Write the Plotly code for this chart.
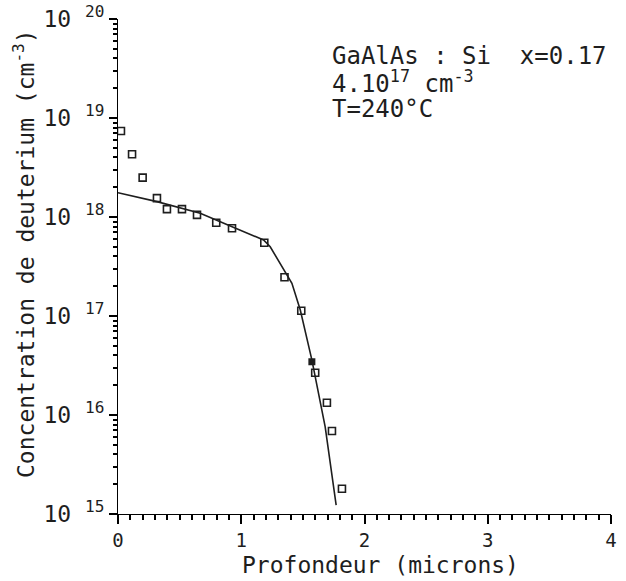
import plotly.graph_objects as go

# Measured deuterium profile (depth in microns, concentration in cm^-3)
depth_pts = [0.024, 0.114, 0.200, 0.316, 0.397, 0.519, 0.641, 0.797, 0.925,
             1.187, 1.351, 1.487, 1.600, 1.695, 1.736, 1.817]
conc_pts = [7.4e18, 4.3e18, 2.5e18, 1.55e18, 1.2e18, 1.2e18, 1.05e18, 8.75e17,
            7.7e17, 5.5e17, 2.46e17, 1.13e17, 2.67e16, 1.33e16, 6.9e15, 1.8e15]

# Point drawn as a solid square
solid_depth = [1.573]
solid_conc = [3.45e16]

# Fitted diffusion curve
fit_depth = [0.0, 0.316, 0.667, 1.181, 1.235, 1.343, 1.411, 1.479, 1.573, 1.681, 1.770]
fit_conc = [1.76e18, 1.43e18, 1.09e18, 5.86e17, 5.0e17, 3.03e17, 2.14e17,
            1.15e17, 3.6e16, 7.6e15, 1.23e15]

x_tickvals = [0, 1, 2, 3, 4]
x_ticktext = ["0", "1", "2", "3", "4"]
y_exponents = [15, 16, 17, 18, 19, 20]

FONT = "DejaVu Sans Mono"
INK = "#1e1e1e"

y_tickvals = [10.0 ** e for e in y_exponents]
y_ticktext = [f"10 <sup>{e}</sup>" for e in y_exponents]

fig = go.Figure()
fig.add_trace(go.Scatter(
    x=fit_depth, y=fit_conc, mode="lines",
    line=dict(color=INK, width=1.6), showlegend=False))
fig.add_trace(go.Scatter(
    x=depth_pts, y=conc_pts, mode="markers",
    marker=dict(symbol="square-open", size=7, color=INK, line=dict(width=1.6)),
    showlegend=False))
fig.add_trace(go.Scatter(
    x=solid_depth, y=solid_conc, mode="markers",
    marker=dict(symbol="square", size=7, color=INK),
    showlegend=False))

tick_style = dict(showline=True, linecolor="black", ticks="outside", tickcolor="black",
                  showgrid=False, zeroline=False, automargin=False)

fig.update_xaxes(
    range=[0, 4], tickvals=x_tickvals, ticktext=x_ticktext,
    ticklen=9, tickwidth=2,
    tickfont=dict(family=FONT, size=19, color=INK),
    minor=dict(dtick=0.1, ticks="outside", ticklen=5, tickcolor="black"),
    **tick_style,
)
fig.update_yaxes(
    type="log", range=[15, 20], tickvals=y_tickvals, ticktext=y_ticktext,
    ticklen=8, tickwidth=2,
    tickfont=dict(family=FONT, size=23, color=INK),
    minor=dict(dtick="D1", ticks="outside", ticklen=4, tickcolor="black"),
    **tick_style,
)

L, R, T, B = 118, 15, 19, 67
W, H = 626, 581
pw, ph = W - L - R, H - T - B


def px(xp):
    return (xp - L) / pw


def py(yp):
    return (H - B - yp) / ph


annotations = [
    dict(text="Concentration de deuterium (cm<sup>-3</sup>)", x=px(24), y=py(254),
         textangle=-90, font=dict(size=23)),
    dict(text="Profondeur (microns)", x=px(380), y=py(565), font=dict(size=23)),
    dict(text="GaAlAs : Si  x=0.17", x=px(330), y=py(56), xanchor="left",
         font=dict(size=24)),
    dict(text="4.10<sup>17</sup> cm<sup>-3</sup>", x=px(330), y=py(82), xanchor="left",
         font=dict(size=24)),
    dict(text="T=240°C", x=px(330), y=py(109), xanchor="left", font=dict(size=24)),
]
for a in annotations:
    a.update(xref="paper", yref="paper", showarrow=False, yanchor="middle")
    a.setdefault("xanchor", "center")
    a["font"].update(family=FONT, color=INK)

fig.update_layout(
    template="simple_white",
    width=W, height=H,
    margin=dict(l=L, r=R, t=T, b=B, autoexpand=False),
    annotations=annotations,
)

fig.write_html("out.html")
